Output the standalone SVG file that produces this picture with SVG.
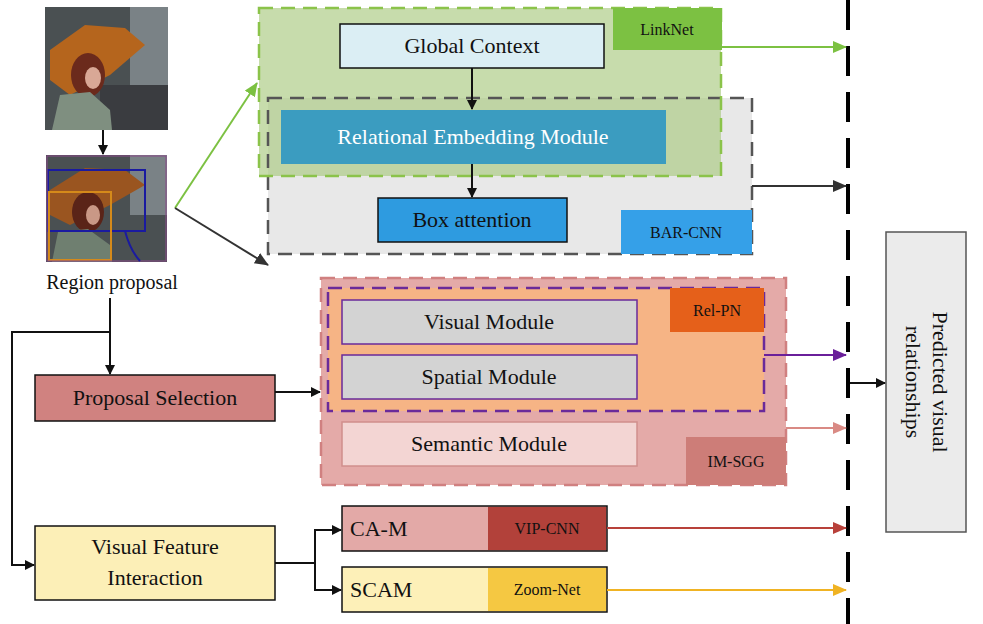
<svg xmlns="http://www.w3.org/2000/svg" width="983" height="624" viewBox="0 0 983 624">
<style>
text{font-family:"Liberation Serif",serif;fill:#111}
.t22{font-size:22px}
.t16{font-size:16px}
.box{stroke:#111;stroke-width:1.5}
</style>
<defs>
<marker id="ak" markerWidth="10" markerHeight="10" refX="9" refY="5" orient="auto" markerUnits="userSpaceOnUse"><path d="M0,0 L10,5 L0,10 Z" fill="#111"/></marker>
<marker id="ag" markerWidth="14" markerHeight="12" refX="13" refY="6" orient="auto" markerUnits="userSpaceOnUse"><path d="M0,0 L14,6 L0,12 Z" fill="#7cc142"/></marker>
<marker id="ad" markerWidth="14" markerHeight="12" refX="13" refY="6" orient="auto" markerUnits="userSpaceOnUse"><path d="M0,0 L14,6 L0,12 Z" fill="#333"/></marker>
<marker id="ap" markerWidth="14" markerHeight="12" refX="13" refY="6" orient="auto" markerUnits="userSpaceOnUse"><path d="M0,0 L14,6 L0,12 Z" fill="#6a1f9a"/></marker>
<marker id="as" markerWidth="14" markerHeight="12" refX="13" refY="6" orient="auto" markerUnits="userSpaceOnUse"><path d="M0,0 L14,6 L0,12 Z" fill="#d98a84"/></marker>
<marker id="ar" markerWidth="14" markerHeight="12" refX="13" refY="6" orient="auto" markerUnits="userSpaceOnUse"><path d="M0,0 L14,6 L0,12 Z" fill="#b8413a"/></marker>
<marker id="ay" markerWidth="14" markerHeight="12" refX="13" refY="6" orient="auto" markerUnits="userSpaceOnUse"><path d="M0,0 L14,6 L0,12 Z" fill="#f0b323"/></marker>
</defs>

<g id="photo1">
<rect x="45" y="7" width="123" height="123" fill="#4a5052"/>
<rect x="130" y="7" width="38" height="80" fill="#7a8286"/>
<rect x="100" y="85" width="68" height="45" fill="#3a3c40"/>
<polygon points="50,50 85,25 125,28 145,45 110,75 70,95 50,80" fill="#b5651d"/>
<ellipse cx="88" cy="75" rx="17" ry="22" fill="#6b2a1c"/>
<ellipse cx="93" cy="78" rx="8" ry="11" fill="#d9a896"/>
<polygon points="52,130 60,95 90,92 110,110 112,130" fill="#7f8f80"/>
</g>
<g id="photo2">
<rect x="46" y="155" width="121" height="107" fill="#4a5052"/>
<rect x="130" y="155" width="37" height="60" fill="#7a8286"/>
<polygon points="50,190 85,168 125,170 145,185 110,205 70,225 50,215" fill="#9a5520"/>
<ellipse cx="88" cy="212" rx="16" ry="20" fill="#5a2418"/>
<ellipse cx="93" cy="215" rx="7" ry="10" fill="#c99886"/>
<polygon points="52,262 58,232 88,229 110,245 112,262" fill="#6f7f70"/>
<rect x="48" y="170" width="97" height="61" fill="none" stroke="#1a1aa0" stroke-width="2"/>
<rect x="49" y="192" width="62" height="68" fill="none" stroke="#d58a1a" stroke-width="2"/>
<rect x="47" y="156" width="119" height="105" fill="none" stroke="#8a4a8a" stroke-width="1"/>
<path d="M125,231 Q130,250 140,261" fill="none" stroke="#1a1aa0" stroke-width="2"/>
</g>
<g id="region-label"><text x="112" y="289" class="t22" text-anchor="middle" font-size="20" style="font-size:20px">Region proposal</text></g>

<g id="barcnn-region">
<rect x="268" y="98" width="484" height="156" fill="#e8e8e8"/>
</g>
<g id="linknet-region">
<rect x="259" y="8" width="462" height="168" fill="#a9c97f" fill-opacity="0.65"/>
<rect x="268" y="98" width="484" height="156" fill="none" stroke="#555" stroke-width="2.5" stroke-dasharray="14 8"/>
<rect x="259" y="8" width="462" height="168" fill="none" stroke="#8bc34a" stroke-width="2.5" stroke-dasharray="14 8"/>
<rect x="613" y="8" width="109" height="42" fill="#7cc142"/>
<text x="667" y="35" class="t16" text-anchor="middle">LinkNet</text>
</g>
<g id="global-context"><rect x="340" y="24" width="264" height="44" fill="#dbeef4" class="box"/><text x="472" y="53" class="t22" text-anchor="middle">Global Context</text></g>
<g id="rem"><rect x="281" y="110" width="385" height="54" fill="#3b9cc0"/><text x="473" y="144" class="t22" text-anchor="middle" style="fill:#fff">Relational Embedding Module</text></g>
<g id="box-attention"><rect x="378" y="198" width="189" height="44" fill="#2e9be0" class="box"/><text x="472" y="227" class="t22" text-anchor="middle">Box attention</text></g>
<g id="barcnn-label"><rect x="621" y="210" width="131" height="44" fill="#35a0e8"/><text x="686" y="238" class="t16" text-anchor="middle">BAR-CNN</text></g>

<g id="imsgg-region">
<rect x="321" y="278" width="465" height="207" fill="#e4aaa8" stroke="#d08080" stroke-width="2.5" stroke-dasharray="14 8"/>
<rect x="686" y="437" width="100" height="48" fill="#cd7d78"/>
<text x="736" y="467" class="t16" text-anchor="middle">IM-SGG</text>
</g>
<g id="relpn-region">
<rect x="328" y="288" width="436" height="123" fill="#f6b485" stroke="#6a2a9a" stroke-width="2.5" stroke-dasharray="14 8"/>
<rect x="670" y="288" width="94" height="44" fill="#e5601a"/>
<text x="717" y="316" class="t16" text-anchor="middle">Rel-PN</text>
</g>
<g id="visual-module"><rect x="342" y="300" width="295" height="44" fill="#d3d3d3" stroke="#6a2a9a" stroke-width="1.5"/><text x="489" y="329" class="t22" text-anchor="middle">Visual Module</text></g>
<g id="spatial-module"><rect x="342" y="355" width="295" height="44" fill="#d3d3d3" stroke="#6a2a9a" stroke-width="1.5"/><text x="489" y="384" class="t22" text-anchor="middle">Spatial Module</text></g>
<g id="semantic-module"><rect x="342" y="422" width="295" height="44" fill="#f3d5d3" stroke="#d08f8c" stroke-width="1.5"/><text x="489" y="451" class="t22" text-anchor="middle">Semantic Module</text></g>

<g id="proposal-selection"><rect x="35" y="375" width="240" height="46" fill="#d08280" class="box"/><text x="155" y="405" class="t22" text-anchor="middle">Proposal Selection</text></g>
<g id="vfi"><rect x="35" y="526" width="240" height="74" fill="#fcefb7" class="box"/><text x="155" y="554" class="t22" text-anchor="middle">Visual Feature</text><text x="155" y="585" class="t22" text-anchor="middle">Interaction</text></g>
<g id="cam"><rect x="342" y="506" width="265" height="45" fill="#e3a9a7" class="box"/><rect x="488" y="507" width="118" height="43" fill="#b2413a"/><text x="350" y="536" class="t22">CA-M</text><text x="547" y="534" class="t16" text-anchor="middle">VIP-CNN</text></g>
<g id="scam"><rect x="342" y="567" width="265" height="45" fill="#fdf0b8" class="box"/><rect x="488" y="568" width="118" height="43" fill="#f5c842"/><text x="350" y="597" class="t22">SCAM</text><text x="547" y="595" class="t16" text-anchor="middle">Zoom-Net</text></g>
<g id="predicted"><rect x="886" y="232" width="80" height="300" fill="#ebebeb" stroke="#555" stroke-width="1.5"/>
<text transform="translate(933,382) rotate(90)" class="t22" text-anchor="middle">Predicted visual</text>
<text transform="translate(906,382) rotate(90)" class="t22" text-anchor="middle">relationships</text></g>

<g id="connectors" fill="none" stroke-width="2">
<line x1="848" y1="0" x2="848" y2="624" stroke="#000" stroke-width="4" stroke-dasharray="30 16"/>
<line x1="103" y1="130" x2="103" y2="154" stroke="#111" marker-end="url(#ak)"/>
<line x1="175" y1="208" x2="257" y2="83" stroke="#7cc142" marker-end="url(#ag)"/>
<line x1="175" y1="208" x2="268" y2="265" stroke="#333" marker-end="url(#ad)"/>
<line x1="472" y1="68" x2="472" y2="109" stroke="#111" marker-end="url(#ak)"/>
<line x1="472" y1="164" x2="472" y2="197" stroke="#111" marker-end="url(#ak)"/>
<line x1="722" y1="47" x2="846" y2="47" stroke="#7cc142" marker-end="url(#ag)"/>
<line x1="752" y1="186" x2="846" y2="186" stroke="#333" marker-end="url(#ad)"/>
<line x1="764" y1="355" x2="846" y2="355" stroke="#6a1f9a" marker-end="url(#ap)"/>
<line x1="786" y1="428" x2="846" y2="428" stroke="#d98a84" marker-end="url(#as)"/>
<line x1="607" y1="528" x2="846" y2="528" stroke="#b8413a" marker-end="url(#ar)"/>
<line x1="607" y1="590" x2="846" y2="590" stroke="#f0b323" marker-end="url(#ay)"/>
<line x1="850" y1="383" x2="885" y2="383" stroke="#111" marker-end="url(#ak)"/>
<polyline points="110,298 110,332 12,332 12,565 34,565" stroke="#111" marker-end="url(#ak)"/>
<line x1="110" y1="332" x2="110" y2="374" stroke="#111" marker-end="url(#ak)"/>
<line x1="275" y1="392" x2="320" y2="392" stroke="#111" marker-end="url(#ak)"/>
<polyline points="275,563 315,563 315,530 341,530" stroke="#111" marker-end="url(#ak)"/>
<polyline points="315,563 315,590 341,590" stroke="#111" marker-end="url(#ak)"/>
</g>
</svg>
